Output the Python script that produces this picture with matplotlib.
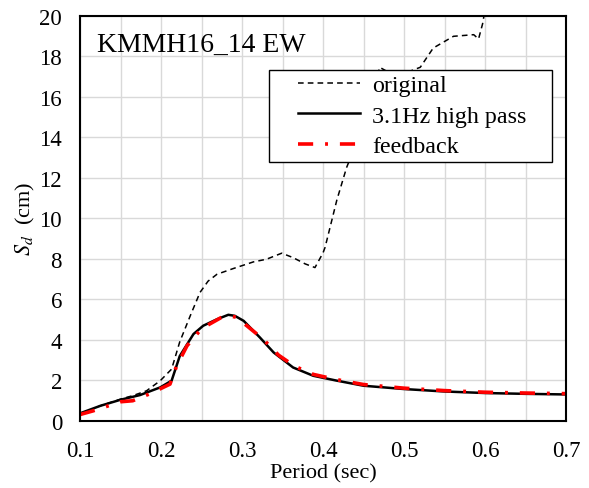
import numpy as np
import matplotlib.pyplot as plt
from matplotlib.patches import Rectangle

plt.rcParams['font.family'] = ['Liberation Serif', 'DejaVu Serif']
plt.rcParams['mathtext.fontset'] = 'stix'

# response spectra
T_orig = [0.1, 0.125, 0.15, 0.165, 0.182, 0.199, 0.213, 0.223, 0.236, 0.248, 0.258, 0.269,
          0.289, 0.314, 0.33, 0.349, 0.363, 0.378, 0.39, 0.4, 0.4025, 0.417, 0.429, 0.44,
          0.455, 0.47, 0.49, 0.52, 0.536, 0.561, 0.586, 0.592, 0.597, 0.6]
S_orig = [0.34, 0.75, 1.08, 1.25, 1.49, 1.99, 2.56, 3.9, 5.19, 6.34, 6.9, 7.24,
          7.52, 7.85, 7.98, 8.28, 8.06, 7.75, 7.57, 8.3, 8.57, 10.9, 12.5, 13.6,
          15.4, 17.45, 17.0, 17.45, 18.4, 18.98, 19.06, 18.85, 19.6, 20.3]

T_hp = [0.1, 0.125, 0.15, 0.174, 0.199, 0.213, 0.223, 0.24, 0.252, 0.269, 0.283, 0.291,
        0.302, 0.322, 0.339, 0.363, 0.388, 0.417, 0.45, 0.499, 0.548, 0.6, 0.65, 0.7]
S_hp = [0.38, 0.75, 1.05, 1.28, 1.66, 1.99, 3.2, 4.29, 4.7, 5.02, 5.24, 5.19,
        4.94, 4.12, 3.38, 2.64, 2.23, 1.99, 1.74, 1.58, 1.46, 1.38, 1.34, 1.31]

T_fb = [0.1, 0.116, 0.15, 0.165, 0.187, 0.211, 0.219, 0.232, 0.25, 0.274, 0.283, 0.293,
        0.326, 0.345, 0.365, 0.388, 0.417, 0.45, 0.5, 0.55, 0.6, 0.65, 0.7]
S_fb = [0.32, 0.5, 0.95, 1.0, 1.36, 1.82, 2.7, 3.71, 4.56, 5.1, 5.2, 5.12,
        4.04, 3.25, 2.7, 2.3, 2.04, 1.8, 1.62, 1.5, 1.42, 1.38, 1.35]

fig = plt.figure(figsize=(5.89, 4.89), dpi=100)
ax = fig.add_axes([0.136, 0.137, 0.825, 0.829])

ax.plot(T_orig, S_orig, color='black', lw=1.1, dashes=(3.7, 2.7), label='original')
ax.plot(T_hp, S_hp, color='black', lw=1.8, label='3.1Hz high pass')
ax.plot(T_fb, S_fb, color='red', lw=2.6, dashes=(4.2, 3.3, 0.8, 3.3), label='feedback')

ax.set_xlim(0.1, 0.7)
ax.set_ylim(0, 20)
ax.set_xticks(np.arange(0.1, 0.71, 0.1))
ax.set_xticks(np.arange(0.1, 0.71, 0.05), minor=True)
ax.set_yticks(np.arange(0, 21, 2))
ax.set_xticklabels(['0.1', '0.2', '0.3', '0.4', '0.5', '0.6', '0.7'])
ax.grid(True, which='both', color='#d9d9d9', lw=1.0)
ax.set_axisbelow(True)
ax.tick_params(which='both', length=0, labelsize=16.5)
ax.tick_params(axis='x', pad=14)
ax.tick_params(axis='y', pad=13)
for s in ax.spines.values():
    s.set_linewidth(1.5)

ax.set_xlabel('Period (sec)', fontsize=16, labelpad=1)
ax.set_ylabel(r'$S_d$  (cm)', fontsize=16, labelpad=2)

ax.text(0.035, 0.96, 'KMMH16_14 EW', transform=ax.transAxes, fontsize=20,
        va='top', ha='left')

# legend box drawn by hand (wider padding than matplotlib's frame)
box = Rectangle((0.389, 0.639), 0.582, 0.228, transform=ax.transAxes,
                facecolor='white', edgecolor='black', lw=1.0, zorder=4)
ax.add_patch(box)
leg = ax.legend(loc='center', bbox_to_anchor=(0.683, 0.753), fontsize=17.3,
                frameon=False, handlelength=2.6, handletextpad=0.5,
                borderpad=0, labelspacing=0.37)
leg.set_zorder(5)

fig.savefig('out.png', dpi=100)
